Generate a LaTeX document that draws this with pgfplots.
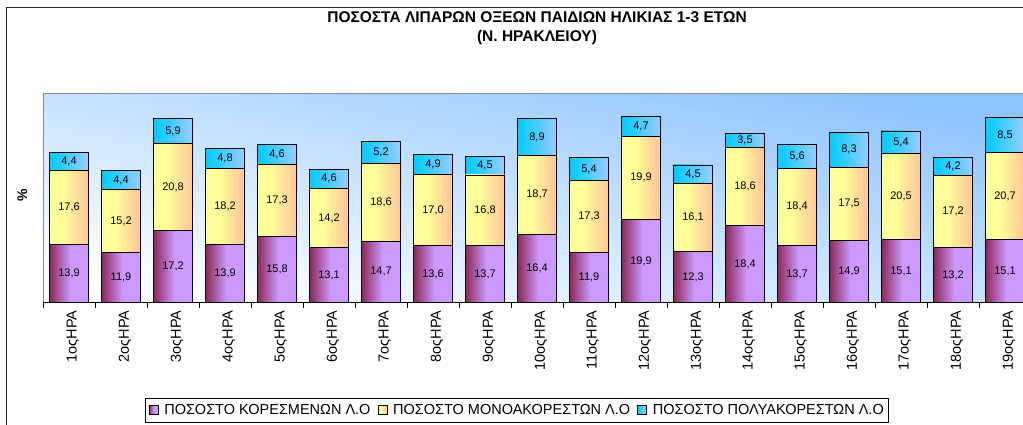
\documentclass[border=0pt]{standalone}
\usepackage{pgfplots}
\pgfplotsset{compat=1.18}
\usepackage{pgfplotstable}
\usepackage{fontspec}
\setmainfont{Liberation Sans}
\definecolor{purpL}{RGB}{140,40,90}
\definecolor{purpR}{RGB}{204,153,255}
\definecolor{yelL}{RGB}{255,255,153}
\definecolor{yelR}{RGB}{255,204,153}
\definecolor{bluL}{RGB}{0,204,255}
\definecolor{bluR}{RGB}{153,204,255}
\definecolor{bgTop}{RGB}{140,196,255}
\pgfdeclarehorizontalshading{purpshade}{100bp}{color(0bp)=(purpL); color(25bp)=(purpL); color(52bp)=(purpR); color(100bp)=(purpR)}
\pgfdeclarehorizontalshading{yelshade}{100bp}{color(0bp)=(yelL); color(25bp)=(yelL); color(42bp)=(yelL); color(70bp)=(yelR); color(100bp)=(yelR)}
\pgfdeclarehorizontalshading{blushade}{100bp}{color(0bp)=(bluL); color(25bp)=(bluL); color(75bp)=(bluR); color(100bp)=(bluR)}
\pgfdeclareplotmark{emptymark}{}
\pgfplotstableread{
x a b c
0 13.9 17.6 4.4
1 11.9 15.2 4.4
2 17.2 20.8 5.9
3 13.9 18.2 4.8
4 15.8 17.3 4.6
5 13.1 14.2 4.6
6 14.7 18.6 5.2
7 13.6 17.0 4.9
8 13.7 16.8 4.5
9 16.4 18.7 8.9
10 11.9 17.3 5.4
11 19.9 19.9 4.7
12 12.3 16.1 4.5
13 18.4 18.6 3.5
14 13.7 18.4 5.6
15 14.9 17.5 8.3
16 15.1 20.5 5.4
17 13.2 17.2 4.2
18 15.1 20.7 8.5
}\datatable
\pgfplotsset{
  shadedbar/.style n args={2}{
    only marks, scatter, mark=emptymark, forget plot,
    visualization depends on={\thisrow{#1}\as\h},
    scatter/@pre marker code/.code={\shade[draw=black, line width=0.8pt, shading=#2] (axis direction cs:-0.375,0) rectangle (axis direction cs:0.375,-\h);},
    scatter/@post marker code/.code={},
  },
}
\begin{document}
\begin{tikzpicture}
\useasboundingbox (0,0) rectangle (1023pt,425pt);
\clip (0,0) rectangle (1023pt,425pt);
\fill[white] (0,0) rectangle (1023pt,425pt);
\draw[line width=1pt, black!85] (6pt,-20pt) -- (6pt,417.5pt) -- (1100pt,417.5pt);
\node[align=center, font=\bfseries\fontsize{15.5}{19.5}\selectfont] at (537pt,397pt) {ΠΟΣΟΣΤΑ ΛΙΠΑΡΩΝ ΟΞΕΩΝ ΠΑΙΔΙΩΝ ΗΛΙΚΙΑΣ 1-3 ΕΤΩΝ\\(Ν. ΗΡΑΚΛΕΙΟΥ)};
\begin{axis}[
  scale only axis,
  width=988pt, height=209.4pt,
  at={(43pt,122.3pt)}, anchor=south west,
  stack plots=y,
  xmin=-0.5, xmax=18.5, ymin=0, ymax=50,
  axis background/.style={shade, top color=bgTop, bottom color=white, shading angle=-12},
  axis line style={draw=gray!90},
  ytick=\empty,
  xtick={0,...,18},
  xticklabels={1οςΗΡΑ,2οςΗΡΑ,3οςΗΡΑ,4οςΗΡΑ,5οςΗΡΑ,6οςΗΡΑ,7οςΗΡΑ,8οςΗΡΑ,9οςΗΡΑ,10οςΗΡΑ,11οςΗΡΑ,12οςΗΡΑ,13οςΗΡΑ,14οςΗΡΑ,15οςΗΡΑ,16οςΗΡΑ,17οςΗΡΑ,18οςΗΡΑ,19οςΗΡΑ},
  major x tick style={draw=none},
  minor xtick={-0.5,0.5,...,18.5},
  minor tick length=5pt,
  tick align=outside, tick pos=lower,
  minor x tick style={black, line width=0.6pt},
  xticklabel style={rotate=90, anchor=east, font=\fontsize{14.5}{14.5}\selectfont, yshift=-4pt},
  ylabel={\%}, ylabel style={at={(axis description cs:-0.021,0.514)}, anchor=center, font=\bfseries\fontsize{14}{14}\selectfont},
  legend columns=3,
  legend style={at={(0.480,-0.455)}, anchor=north, draw=black, line width=0.6pt, font=\fontsize{14.5}{14.5}\selectfont, inner xsep=3pt, inner ysep=4pt,
    /tikz/every odd column/.append style={column sep=4pt},
    /tikz/every even column/.append style={column sep=5pt}},
  extra description/.code={\draw[black, line width=0.7pt] (rel axis cs:0,0) -- (rel axis cs:1,0);},
  clip=false,
]
\addplot[shadedbar={a}{purpshade}] table[x=x,y=a] {\datatable};
\addplot[shadedbar={b}{yelshade}] table[x=x,y=b] {\datatable};
\addplot[shadedbar={c}{blushade}] table[x=x,y=c] {\datatable};
\addlegendimage{legend image code/.code={\shade[draw=black, line width=0.6pt, shading=purpshade] (0pt,-4.5pt) rectangle (9pt,4.5pt);}}
\addlegendentry{ΠΟΣΟΣΤΟ ΚΟΡΕΣΜΕΝΩΝ Λ.Ο}
\addlegendimage{legend image code/.code={\shade[draw=black, line width=0.6pt, shading=yelshade] (0pt,-4.5pt) rectangle (9pt,4.5pt);}}
\addlegendentry{ΠΟΣΟΣΤΟ ΜΟΝΟΑΚΟΡΕΣΤΩΝ Λ.Ο}
\addlegendimage{legend image code/.code={\shade[draw=black, line width=0.6pt, shading=blushade] (0pt,-4.5pt) rectangle (9pt,4.5pt);}}
\addlegendentry{ΠΟΣΟΣΤΟ ΠΟΛΥΑΚΟΡΕΣΤΩΝ Λ.Ο}
\end{axis}
\begin{axis}[
  scale only axis,
  width=988pt, height=209.4pt,
  at={(43pt,122.3pt)}, anchor=south west,
  xmin=-0.5, xmax=18.5, ymin=0, ymax=50,
  hide axis, clip=false,
  nodes near coords,
  point meta=explicit,
  every node near coord/.append style={anchor=center, font=\fontsize{11}{11}\selectfont, black,
    /pgf/number format/.cd, use comma, fixed, fixed zerofill, precision=1, assume math mode=true},
]
\addplot[draw=none, mark=none, nodes near coords] table[x=x, y expr=\thisrow{a}/2, meta=a] {\datatable};
\addplot[draw=none, mark=none, nodes near coords] table[x=x, y expr=\thisrow{a}+\thisrow{b}/2, meta=b] {\datatable};
\addplot[draw=none, mark=none, nodes near coords] table[x=x, y expr=\thisrow{a}+\thisrow{b}+\thisrow{c}/2, meta=c] {\datatable};
\end{axis}
\end{tikzpicture}
\end{document}
